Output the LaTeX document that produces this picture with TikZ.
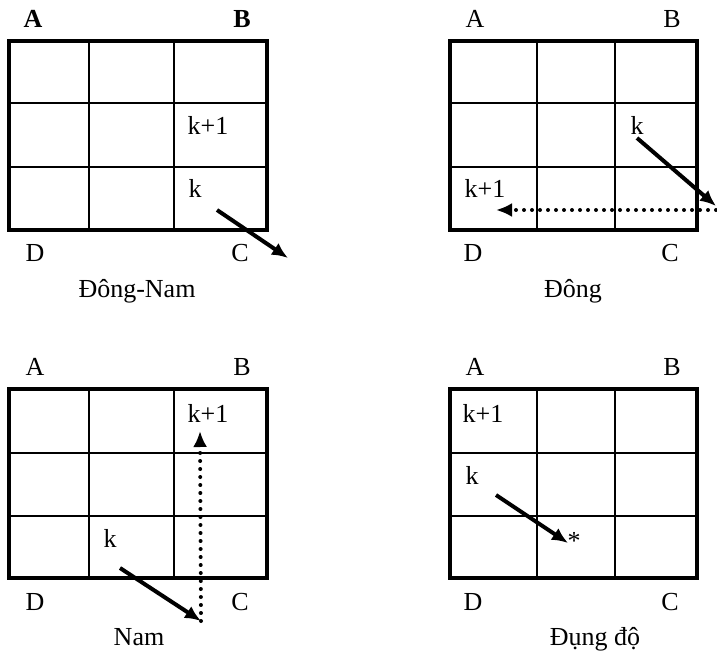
\documentclass[tikz,border=0pt]{standalone}
\usepackage{fontspec}
\setmainfont{Liberation Serif}
\usetikzlibrary{arrows.meta}

\begin{document}
\begin{tikzpicture}[x=0.5pt,y=-0.5pt,
  frame/.style={line width=2.4pt},
  cellline/.style={line width=1.1pt},
  lbl/.style={font=\fontsize{13}{15}\selectfont,inner sep=0pt,anchor=base},
  corner/.style={lbl},
  bcorner/.style={lbl,font=\fontsize{13}{15}\selectfont\bfseries},
  move/.style={line width=2pt,-{Latex[length=8pt,width=7pt]}},
  retry/.style={line width=2pt,line cap=round,dash pattern=on 0pt off 4pt,
                -{Latex[length=8pt,width=7pt]}},
  >=Latex
]
\useasboundingbox (0,0) rectangle (717,652);

% the four 3x3 boards
\foreach \xl/\xa/\xb/\xr in {9/89/174/267, 450/537/615/697}
  \foreach \yt/\ya/\yb/\yd in {41/103/167/230, 389/453/516/578} {
    \draw[cellline] (\xa,\yt) -- (\xa,\yd) (\xb,\yt) -- (\xb,\yd)
                    (\xl,\ya) -- (\xr,\ya) (\xl,\yb) -- (\xr,\yb);
    \draw[frame] (\xl,\yt) rectangle (\xr,\yd);
  }

% board 1: Dong-Nam
\node[bcorner] (a1) at (33,  28)  {A};
\node[bcorner] (b1) at (242, 28)  {B};
\node[corner]  (d1) at (35,  262) {D};
\node[corner]  (c1) at (240, 262) {C};
\node[lbl]     (k1) at (195, 198) {k};
\node[lbl]     (n1) at (208, 135) {k+1};
\node[lbl]     (t1) at (137, 297) {Đông-Nam};
\coordinate (s1) at (217,210);
\coordinate (e1) at (288,258);
\draw[move] (s1) -- (e1);

% board 2: Dong
\node[corner] (a2) at (475, 28)  {A};
\node[corner] (b2) at (672, 28)  {B};
\node[corner] (d2) at (473, 262) {D};
\node[corner] (c2) at (670, 262) {C};
\node[lbl]    (k2) at (637, 135) {k};
\node[lbl]    (n2) at (485, 198) {k+1};
\node[lbl]    (t2) at (573, 297) {Đông};
\coordinate (s2) at (637,138);
\coordinate (e2) at (716,206);
\coordinate (f2) at (716,210);
\coordinate (g2) at (496,210);
\draw[move]  (s2) -- (e2);
\draw[retry] (f2) -- (g2);

% board 3: Nam
\node[corner] (a3) at (35,  375) {A};
\node[corner] (b3) at (242, 375) {B};
\node[corner] (d3) at (35,  610) {D};
\node[corner] (c3) at (240, 610) {C};
\node[lbl]    (k3) at (110, 547) {k};
\node[lbl]    (n3) at (208, 422) {k+1};
\node[lbl]    (t3) at (139, 645) {Nam};
\coordinate (s3) at (120,568);
\coordinate (e3) at (201,621);
\coordinate (g3) at (200,431);
\draw[move]  (s3) -- (e3);
\draw[retry] (e3) -- (g3);

% board 4: Dung do
\node[corner] (a4) at (475, 375) {A};
\node[corner] (b4) at (672, 375) {B};
\node[corner] (d4) at (473, 610) {D};
\node[corner] (c4) at (670, 610) {C};
\node[lbl]    (k4) at (472, 484) {k};
\node[lbl]    (n4) at (483, 422) {k+1};
\node[lbl]    (x4) at (574, 549) {*};
\node[lbl]    (t4) at (595, 645) {Đụng độ};
\coordinate (s4) at (496,495);
\coordinate (e4) at (568,543);
\draw[move] (s4) -- (e4);
\end{tikzpicture}
\end{document}
